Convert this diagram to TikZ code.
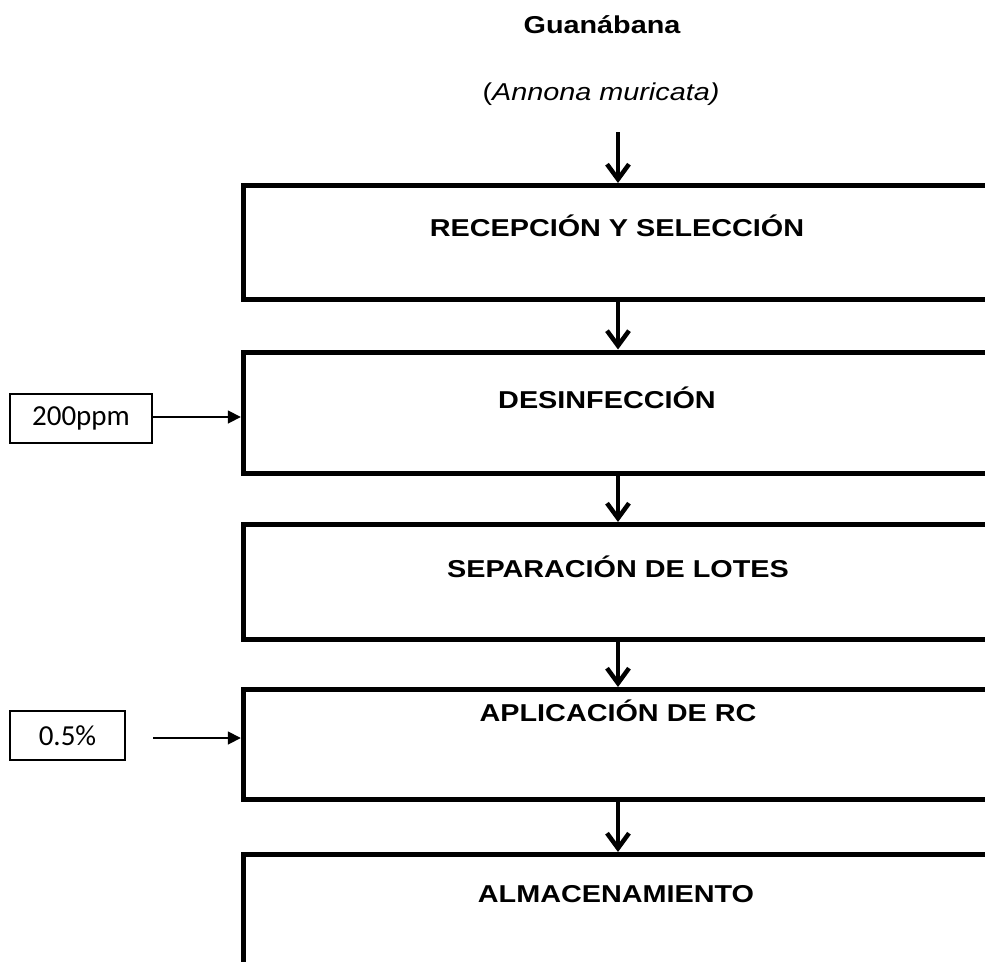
\documentclass[tikz,border=0pt]{standalone}
\usepackage{fontspec}
\newfontfamily\arialw[FakeStretch=1.18]{Liberation Sans}
\newfontfamily\calib{Carlito}
\usetikzlibrary{arrows.meta,calc}
\begin{document}
\begin{tikzpicture}[x=1pt,y=-1pt,
  bigbox/.style={draw,line width=5pt,inner sep=0pt,minimum width=856.7pt},
  boxtext/.style={anchor=base,inner sep=0pt,font=\arialw\bfseries\fontsize{24.4}{28}\selectfont},
  smallbox/.style={draw,line width=2pt,inner sep=0pt,font=\calib\fontsize{29}{34}\selectfont},
  downarrow/.style={line width=4.5pt,-{Straight Barb[length=15pt,width=22pt,line width=4.5pt]}},
  sidearrow/.style={line width=1.7pt,-{Triangle[length=13pt,width=13pt]}}]
\useasboundingbox (0,0) rectangle (985,961);
\clip (0,0) rectangle (985,961);
% boxes
\node[bigbox,minimum height=114pt] (b1) at (671.65,242.5) {};
\node[bigbox,minimum height=121.5pt] (b2) at (671.65,412.75) {};
\node[bigbox,minimum height=115pt] (b3) at (671.65,582) {};
\node[bigbox,minimum height=110pt] (b4) at (671.65,744.5) {};
\node[bigbox,minimum height=200pt] (b5) at (671.65,954.5) {};
% texts
\node[boxtext] (title) at (602,33) {Guanábana};
\node[anchor=base,inner sep=0pt,font=\arialw\fontsize{24.4}{28}\selectfont] (sci) at (601,100) {(\textit{Annona muricata)}};
\node[boxtext] (t1) at (617,236) {RECEPCIÓN Y SELECCIÓN};
\node[boxtext] (t2) at (607,408) {DESINFECCIÓN};
\node[boxtext] (t3) at (618,577) {SEPARACIÓN DE LOTES};
\node[boxtext] (t4) at (618,721) {APLICACIÓN DE RC};
\node[boxtext] (t5) at (616,902) {ALMACENAMIENTO};
% side boxes
\node[smallbox,minimum width=142pt,minimum height=49pt] (ppm) at (81,418.5) {200ppm};
\node[smallbox,minimum width=115pt,minimum height=49pt] (pct) at (67.5,735.5) {0.5\%};
\coordinate (ax) at (618,0);
\coordinate (top) at (618,132);
\coordinate (s2) at (153,738);
% arrows
\draw[downarrow] (top) -- (b1.north -| ax);
\draw[downarrow] (b1.south -| ax) -- (b2.north -| ax);
\draw[downarrow] (b2.south -| ax) -- (b3.north -| ax);
\draw[downarrow] (b3.south -| ax) -- (b4.north -| ax);
\draw[downarrow] (b4.south -| ax) -- (b5.north -| ax);
\draw[sidearrow] (ppm.east |- 0,417) -- (b2.west |- 0,417);
\draw[sidearrow] (s2) -- (b4.west |- s2);
\end{tikzpicture}
\end{document}
